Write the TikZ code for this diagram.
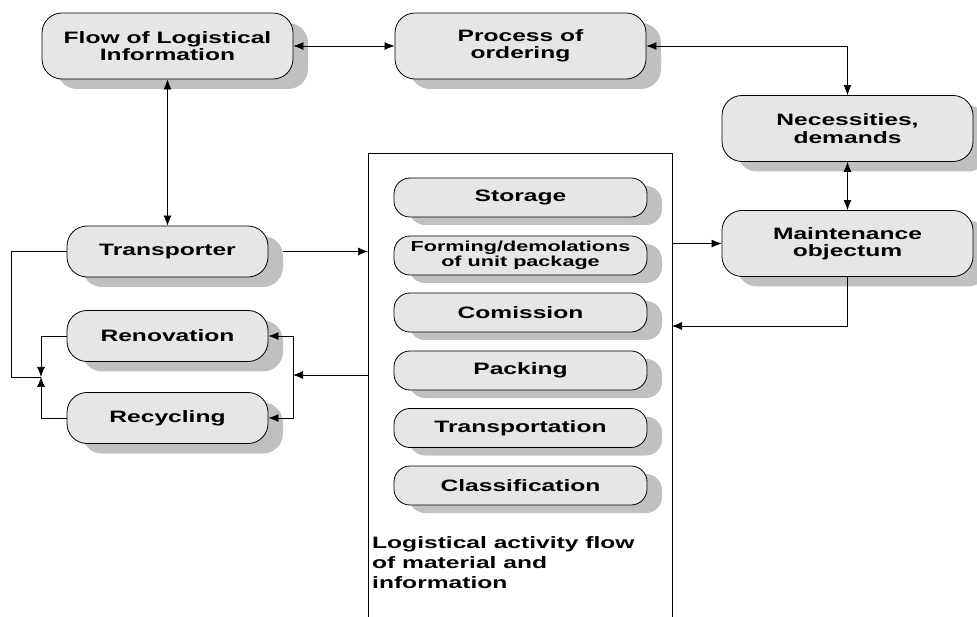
\documentclass[tikz,border=0pt]{standalone}
\usepackage{fontspec}
\setmainfont{Liberation Sans}[FakeStretch=1.49]
\usepackage{tikz}
\usetikzlibrary{arrows.meta,shadows,calc}
\definecolor{BoxGray}{HTML}{E6E6E6}
\definecolor{ShadowGray}{HTML}{C0C0C0}

\begin{document}
\begin{tikzpicture}[x=1pt, y=-1pt, >={Latex[length=10pt,width=8pt]},
  basebox/.style={rounded corners=20pt, draw=black, line width=0.8pt, fill=BoxGray, align=center, inner sep=2pt, font=\fontsize{16.5}{17.5}\selectfont\bfseries},
  bigbox/.style={basebox, minimum width=251pt, minimum height=66pt, drop shadow={shadow xshift=15pt, shadow yshift=-10pt, fill=ShadowGray, opacity=1}},
  sidebox/.style={basebox, minimum width=201pt, minimum height=51pt, drop shadow={shadow xshift=15pt, shadow yshift=-10pt, fill=ShadowGray, opacity=1}},
  actbox/.style={basebox, rounded corners=16pt, minimum width=253pt, minimum height=39pt, drop shadow={shadow xshift=15pt, shadow yshift=-8pt, fill=ShadowGray, opacity=1}},
  link/.style={->, line width=0.7pt},
  both/.style={<->, line width=0.7pt},
  plain/.style={line width=0.7pt}]
\useasboundingbox (0,0) rectangle (977,617);

\node[bigbox] (flow) at (167.5,46) {Flow of Logistical\\Information};
\node[bigbox] (order) at (520.5,46) {Process of\\ordering};
\node[bigbox] (needs) at (847.5,128.5) {Necessities,\\demands};
\node[bigbox] (maint) at (847.5,243.5) {Maintenance\\objectum};
\node[sidebox] (transp) at (167.5,251.5) {Transporter};
\node[sidebox] (renov) at (167.5,336) {Renovation};
\node[sidebox] (recyc) at (167.5,418) {Recycling};

% activity frame, open at the bottom
\coordinate (frameL) at (368,153);
\coordinate (frameR) at (672,153);
\draw[plain] (frameL |- 0,617) -- (frameL) -- (frameR) -- (frameR |- 0,617);

\node[actbox] (storage) at (520.5,197.5) {Storage};
\node[actbox, font=\fontsize{14.5}{15}\selectfont\bfseries] (forming) at (520.5,255.5) {Forming/demolations\\of unit package};
\node[actbox] (comission) at (520.5,312.5) {Comission};
\node[actbox] (packing) at (520.5,370.5) {Packing};
\node[actbox] (transport) at (520.5,428) {Transportation};
\node[actbox] (classif) at (520.5,485.5) {Classification};
\node[anchor=north west, inner sep=0pt, align=left, font=\fontsize{16.5}{20}\selectfont\bfseries] (actlabel) at (372,536) {Logistical activity flow\\of material and\\information};

\coordinate (loopL) at (11,377);
\coordinate (join) at (41,377);
\coordinate (split) at (293,375);
\coordinate (back) at (672,326);

\draw[both] (flow) -- (order);
\draw[both] (order.east) -| (needs.north);
\draw[both] (needs) -- (maint);
\draw[both] (flow) -- (transp);
\draw[link] ([xshift=15pt]transp.east) -- (transp.east -| frameL);
\draw[plain] (transp.west) -| (loopL) -- (join);
\draw[link] (renov.west) -| (join);
\draw[link] (recyc.west) -| (join);
\draw[link] (split -| frameL) -- (split);
\draw[link] (split) |- (renov.east);
\draw[link] (split) |- (recyc.east);
\draw[link] (maint.west -| frameR) -- (maint.west);
\draw[link] (maint.south) |- (back);

\end{tikzpicture}
\end{document}
